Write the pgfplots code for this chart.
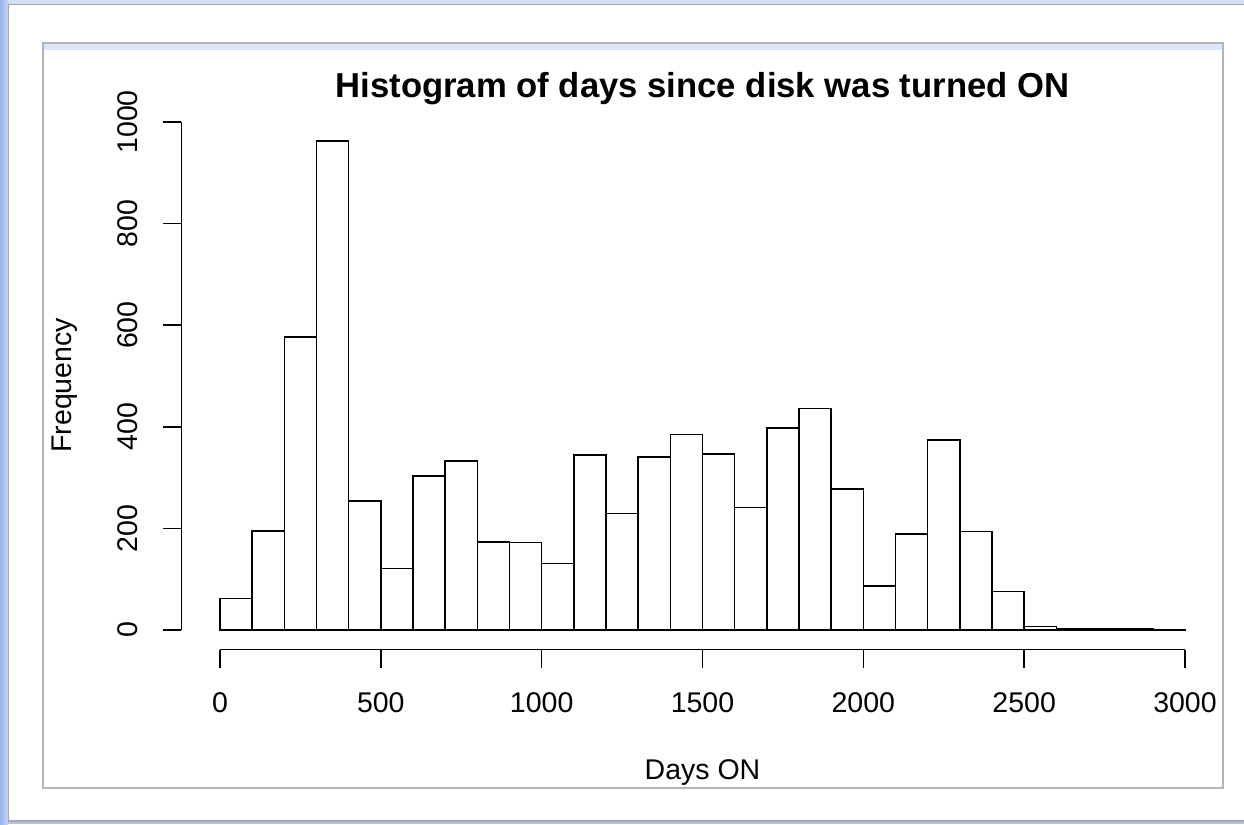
\documentclass[border=0pt]{standalone}
\usepackage{pgfplots}
\pgfplotsset{compat=1.18}
\usepackage{fontspec}
\setmainfont{Liberation Sans}

\definecolor{winstripL}{RGB}{150,180,236}
\definecolor{winstripR}{RGB}{196,212,246}
\definecolor{wintop}{RGB}{212,224,248}
\definecolor{winbottom}{RGB}{184,196,222}
\definecolor{winedge}{RGB}{160,168,184}
\definecolor{panelband}{RGB}{219,230,251}
\definecolor{panelgray}{RGB}{180,180,180}

% histogram counts, bin width 100 (last row closes the final interval)
\pgfplotstableread{
left count
0 62
100 195
200 577
300 963
400 254
500 121
600 303
700 333
800 173
900 172
1000 131
1100 344
1200 229
1300 341
1400 385
1500 346
1600 241
1700 398
1800 436
1900 278
2000 87
2100 189
2200 374
2300 194
2400 76
2500 7
2600 3
2700 3
2800 3
2900 1
3000 1
}\daysdata

\newcommand{\labfont}{\fontsize{17.1}{20}\selectfont}
\newcommand{\titlefont}{\fontsize{20.8}{24}\selectfont\bfseries}

\begin{document}
\begin{tikzpicture}
\begin{scope}[x=0.6pt,y=-0.6pt]
  \useasboundingbox (0,0) rectangle (1244,824);
  % window frame
  \fill[wintop] (0,0) rectangle (1244,824);
  \shade[left color=winstripL, right color=winstripR] (0,0) rectangle (8,824);
  \fill[winbottom] (8,821) rectangle (1244,824);
  \fill[white] (8,4) rectangle (1244,821);
  \draw[winedge, line width=0.8pt] (1250,4.5) -- (8.5,4.5) -- (8.5,821) -- (1250,821);
  % plot panel
  \fill[panelband] (43.5,43.5) rectangle (1222.5,50);
  \draw[panelgray, line width=0.9pt] (43,43) rectangle (1223,788);
  % titles
  \node[anchor=base, inner sep=0pt] at (702.5,97.3) {\titlefont Histogram of days since disk was turned ON};
  \node[anchor=base, inner sep=0pt] at (702.5,779.5) {\labfont Days ON};
  \node[anchor=base, rotate=90, inner sep=0pt] at (71.7,385.4) {\labfont Frequency};
\end{scope}

\begin{axis}[
  at={(108.84pt,-389.76pt)}, anchor=south west,
  scale only axis, width=625.32pt, height=317.04pt,
  xmin=-120, xmax=3120, ymin=-38.5, ymax=1001.5,
  clip=false,
  axis line style={draw=none},
  xtick={0,500,...,3000}, ytick={0,200,...,1000},
  tick pos=left, tick align=outside,
  major tick length=10.8pt,
  tick style={black, line width=0.9pt},
  /pgf/number format/assume math mode=true,
  /pgf/number format/1000 sep={},
  ticklabel style={font=\labfont, inner sep=0pt},
  xticklabel style={anchor=base, yshift=-27.0pt},
  yticklabel style={xshift=-15.4pt, rotate=90, anchor=base},
]
  \addplot[ybar interval, draw=black, fill=white, line width=0.95pt]
    table[x=left, y=count] {\daysdata};
  \draw[black, line width=0.9pt] (axis cs:0,-38.5) -- (axis cs:3000,-38.5);
  \draw[black, line width=0.9pt] (axis cs:-120,0) -- (axis cs:-120,1000);
\end{axis}
\end{tikzpicture}
\end{document}
